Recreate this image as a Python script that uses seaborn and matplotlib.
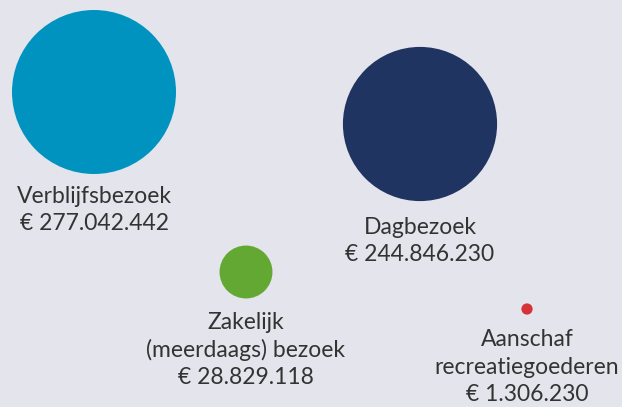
import pandas as pd
import seaborn as sns
import matplotlib.pyplot as plt

# Data
categories = ["Verblijfsbezoek", "Dagbezoek", "Zakelijk\n(meerdaags) bezoek", "Aanschaf\nrecreatiegoederen"]
values = [277042442, 244846230, 28829118, 1306230]
value_labels = ["€ 277.042.442", "€ 244.846.230", "€ 28.829.118", "€ 1.306.230"]
colors = ["#0093bf", "#1f3461", "#62a832", "#d6323a"]

# Layout (pixel positions on the 622x407 canvas)
pos_x = [94, 420, 246, 527]
pos_y = [92, 124, 272, 309]
label_y = [210, 241, 350, 367]

BG = "#e4e4ec"
TEXT = "#333333"

df = pd.DataFrame({"cat": categories, "value": values, "x": pos_x, "y": pos_y})

sns.set_theme(style="white")
plt.rcParams['font.family'] = ['Lato', 'DejaVu Sans']

fig = plt.figure(figsize=(6.22, 4.07), dpi=100, facecolor=BG)
ax = fig.add_axes([0, 0, 1, 1], facecolor=BG)

# bubble area proportional to value; largest circle is ~164 px across
k = (164 * 0.72) ** 2 / max(values)
sns.scatterplot(
    data=df, x="x", y="y", hue="cat", size="value",
    sizes=(k * min(values), k * max(values)), size_norm=(min(values), max(values)),
    palette=colors, legend=False, linewidth=0, ax=ax
)

for cat, val, x, y in zip(categories, value_labels, pos_x, label_y):
    ax.text(x, y, cat + "\n" + val, ha="center", va="center", fontsize=16.5,
            color=TEXT, linespacing=1.36)

ax.set_xlim(0, 622)
ax.set_ylim(407, 0)
ax.set_axis_off()

fig.savefig("out.png", dpi=100, facecolor=BG)
